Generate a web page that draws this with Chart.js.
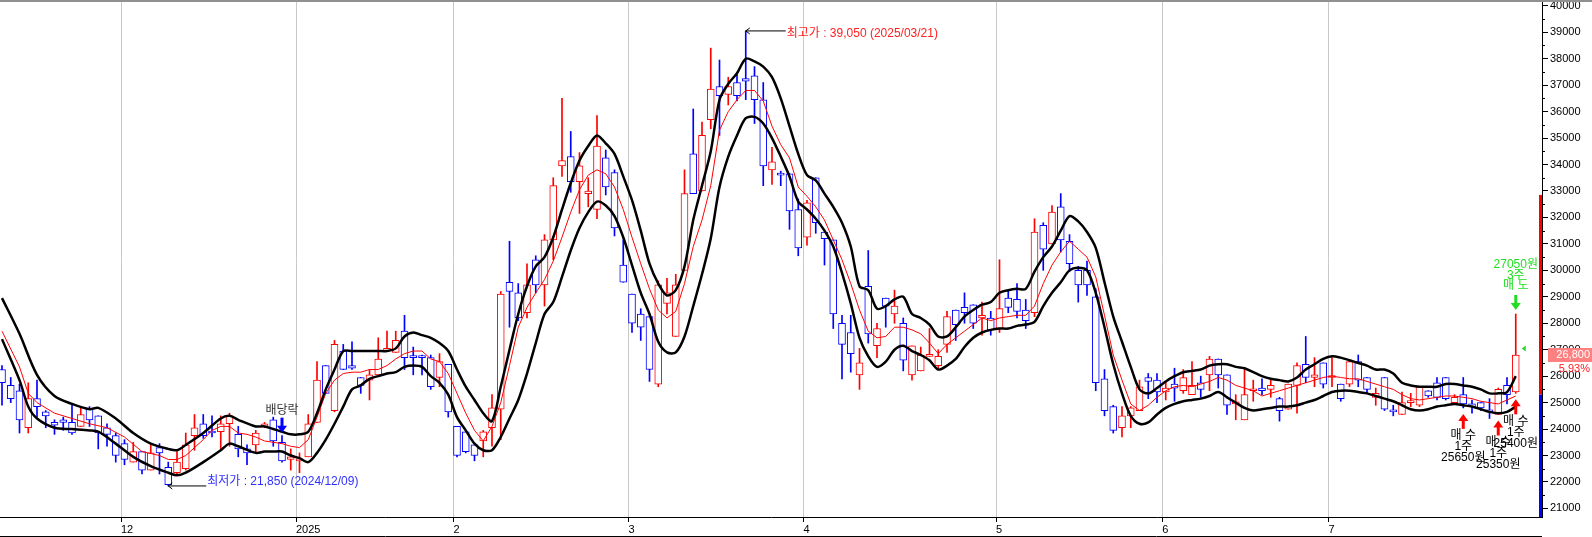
<!DOCTYPE html>
<html>
<head>
<meta charset="utf-8">
<script src="https://cdn.jsdelivr.net/npm/chart.js@4.4.1/dist/chart.umd.min.js"></script>
<style>
  html, body { margin: 0; padding: 0; background: #fff; }
  #wrap { width: 1592px; height: 537px; }
</style>
</head>
<body>
<div id="wrap"><canvas id="chart" width="1592" height="537"></canvas></div>
<script>
// Daily candles, 2024-11-12 .. 2025-07-30 (index = trading day)
const opens = [26250,25650,25450,24050,25150,24650,24250,24350,24250,24100,
  24750,24500,24050,23750,23450,22750,23150,22450,23300,22550,
  22350,22500,23750,24200,23900,23900,24200,23800,23250,23400,
  24100,24350,23500,22850,22800,22950,24250,26400,24700,26950,
  26400,25950,25850,26050,26950,26900,27700,26750,26750,26700,
  25950,26450,24100,23900,23400,23550,24050,24750,29550,29150,
  28400,30400,29450,31150,33950,34300,33350,32900,32300,34250,
  33700,30200,29100,28350,28250,25700,28750,27500,30000,34400,
  33000,35700,36950,36650,37100,37250,37350,36450,33800,33650,
  33650,32300,31250,33500,31450,31150,28000,27650,26050,29400,
  27150,28950,28350,28000,26050,26200,26750,26400,27200,28500,
  28600,28700,28200,28200,27800,28950,28900,28500,28400,31700,
  31000,32400,31100,30000,30000,29000,25900,24850,24050,24500,
  24700,25950,25850,25400,25700,25450,25300,25750,26050,26650,
  26050,24950,24350,25450,25550,25500,25150,24750,25650,26450,
  25950,26500,25950,25700,25700,26550,25950,25200,25950,24700,
  24550,25000,24900,25450,25750,25950,25000,25300,24950,25000,
  24700,24550,25650,25400];
const highs = [26400,25950,25700,25750,25850,24700,24350,24450,24900,24850,
  24850,24500,24200,23850,23600,23500,23150,23450,23450,22750,
  23150,23850,24550,24550,24500,24500,24600,24100,23400,23950,
  24250,24450,23750,23250,23100,24550,26550,26400,27350,27200,
  27300,25950,26250,27450,27700,27700,28300,27100,26800,26800,
  26850,26450,24100,23900,23400,23950,25300,29200,31100,29500,
  30250,30550,31350,33500,36500,35250,34450,33500,35850,34550,
  33800,31150,29100,28550,28250,29600,29700,29850,33800,36100,
  35600,38400,37950,37300,37450,39050,37700,37100,34650,33750,
  33650,32700,32650,33500,31450,31150,28300,28300,27050,30750,
  28000,28950,29250,28200,27150,27100,27800,27000,28450,28500,
  29150,28700,28800,28450,30400,29250,29500,28900,31950,31800,
  32450,32900,31350,30150,30350,29300,26250,24900,24850,24850,
  25850,26100,26100,25800,26300,26250,26550,26000,26750,26650,
  26050,25300,26250,25850,25900,25850,25200,25700,26500,27500,
  26700,26500,26700,25700,26600,26800,25950,25550,25950,24900,
  25400,25350,25600,25450,25950,25950,25300,25950,25100,25000,
  25150,25550,25950,28350];
const lows = [24900,25000,23850,23850,24450,24050,23800,23950,23800,24100,
  24100,23250,23350,22750,22650,22750,22300,22450,22300,21850,
  22250,22450,23200,23650,23700,23200,23350,22950,22650,23100,
  24050,23350,22750,22450,22350,22950,24250,25350,24650,26250,
  26250,25350,25100,26050,26950,26900,26250,26050,26050,25500,
  25600,24450,22950,23100,22800,22950,23350,23600,27850,28100,
  28200,29150,28650,30400,33550,32950,32150,32400,31950,32850,
  31300,29550,27650,27350,25800,25600,28350,27500,30000,32900,
  33000,35350,35100,36250,36400,36450,35550,33200,33250,33200,
  31550,30550,30950,31400,30200,27800,25900,26150,25500,27250,
  26700,27850,28000,26200,25850,26200,26750,26250,26900,27350,
  28000,27800,27550,27550,27650,28400,28200,27800,28250,30000,
  31000,30700,29950,28800,29050,25450,24500,23850,23700,24050,
  24700,25150,25000,25100,25050,25350,25300,25200,25450,25550,
  24550,24350,24350,25050,25300,25200,24300,24750,24600,25750,
  25600,25550,25600,25050,25600,25600,25350,24900,24700,24500,
  24550,24850,24850,25200,25100,25100,24950,24800,24600,24700,
  24400,24550,24950,25350];
const closes = [25750,25150,24350,25150,24850,24500,24150,24250,23850,24550,
  24350,23850,23800,23000,22850,23150,22450,23100,23100,21900,
  22750,23400,24050,23750,23850,24200,24500,23250,23100,23850,
  24200,23550,22800,22950,22850,24200,25850,25350,27200,26250,
  26300,25650,26050,26650,27050,27350,26700,26700,26700,25600,
  26550,24650,23000,23150,23000,23900,24800,29100,29200,28200,
  29450,29450,31150,33200,34150,33350,33950,33000,34700,33150,
  31600,29550,28000,27850,26250,29450,29150,29450,32900,32900,
  35100,36850,36600,36950,36600,37150,36450,33950,34100,33600,
  32250,30850,32550,31800,31200,28350,27200,26850,26500,27600,
  27800,28650,28650,26600,27150,26800,26800,26750,28250,27950,
  28400,28000,28300,27750,28550,28600,28450,28100,31450,30800,
  32200,31150,30250,29450,29450,25750,24700,23950,24500,24800,
  25600,25800,25400,25550,25550,25950,25650,25500,26650,26050,
  24900,25000,25300,25500,25450,25650,24700,25700,26400,25950,
  26050,25700,26000,25150,26550,25850,25500,25350,24750,24650,
  25000,25050,25600,25250,25200,25150,25200,24950,24850,24800,
  24650,25500,25300,26800];

// Band lines (null = not read)
const bandUpper = [28950,null,27600,null,26050,null,25250,null,24950,null,
  24750,24800,null,24400,null,23850,null,23450,null,23250,
  23200,23400,null,23850,null,24400,24500,24350,null,24100,
  24100,24000,23900,23800,23800,23900,24600,25500,26250,26950,
  26950,26950,26950,26950,26950,27050,27500,27650,27550,27450,
  27250,26950,26250,25600,25100,24600,24300,25600,27000,28350,
  29400,30150,30500,31250,32300,33300,34150,34700,35100,34800,
  34400,33550,32650,31500,30250,29500,29050,29250,30150,31900,
  33200,34500,36450,37050,37450,38000,37900,37700,37300,36500,
  35450,34400,33600,33400,32900,32400,31800,30900,29400,29250,
  28550,28650,28900,29000,28350,28200,27950,27500,27500,27850,
  28250,28500,28700,28800,29150,29250,29300,29300,29950,30500,
  30900,31500,32050,31850,31450,30850,29550,28250,27300,26350,
  25500,25350,25550,25800,26000,26150,26200,26250,26400,26450,
  26450,26350,26300,26150,26000,25900,25850,25800,25950,26250,
  26450,26650,26750,26700,26600,26500,26400,26250,26250,26100,
  25750,25650,25600,25600,25600,25700,25700,25650,25600,25500,
  25350,25350,25400,26000];
const maLine = [27700,null,26350,25350,25000,null,24600,null,24400,null,
  24200,null,24050,null,23700,null,23150,null,23000,22850,
  22850,23000,null,23600,23950,24100,24100,23850,23800,23700,
  23550,23500,23450,23350,23300,23600,24450,25350,25850,26100,
  26150,26150,26250,26250,26400,26650,26850,26950,26950,26650,
  26550,26100,25350,24600,23950,23550,24100,25000,26400,27850,
  28600,29150,29650,30350,31250,32200,33050,33600,33800,33650,
  33150,32300,31250,30250,29300,28500,28200,28450,29500,30900,
  31900,33200,35300,36000,36450,36800,36800,36400,35450,34750,
  34250,33150,32800,32400,31900,31150,30400,29500,28500,27700,
  27450,27500,27850,27850,27750,27600,27250,26850,27200,27450,
  27700,27950,28200,28100,28200,28250,28300,28300,28650,29500,
  30200,30700,31100,30800,30500,29750,28300,26800,25850,24950,
  24700,24900,25200,25450,25600,25650,25600,25700,25800,25950,
  25850,25650,25550,25450,25250,25350,25450,25550,25650,25750,
  25850,25950,26000,25950,25900,25900,25800,25700,25600,25500,
  25300,25150,25100,25150,25200,25250,25250,25200,25150,25050,
  25000,24950,25100,25250];
const bandLower = [27400,null,25850,24850,24400,null,24050,null,24000,null,
  23950,23900,null,23450,null,22950,null,22600,null,22350,
  22250,22350,null,22750,null,23200,23450,23350,null,23100,
  23150,23150,23150,23000,22900,22750,23100,23600,24200,24850,
  25500,25650,25900,26000,26100,26150,26350,26400,26350,26000,
  25750,25300,24450,23950,23450,23200,23200,23700,24400,25100,
  26100,27250,28350,28800,29750,30750,31600,32200,32600,32450,
  32050,31250,30200,29150,28350,27300,26900,26900,27500,28650,
  29850,31200,33150,34300,35100,35750,35800,35550,35000,34300,
  33550,32600,32300,31950,31500,30900,29900,28750,27450,26750,
  26350,26550,27000,27150,26950,26800,26600,26250,26400,26650,
  27100,27450,27650,27750,27800,27800,27900,27950,28050,28650,
  29150,29550,30000,30100,30000,29150,27850,26450,25350,24500,
  24200,24250,24550,24800,24950,25050,25100,25150,25250,25400,
  25200,25000,24800,24700,24750,24800,24850,24850,24900,25000,
  25100,25250,25400,25450,25450,25400,25350,25250,25150,25050,
  24900,24750,24700,24750,24850,24900,24950,24900,24850,24750,
  24650,24600,24650,24850];

// Axes
const monthIdx = [14, 34, 52, 72, 92, 114, 133, 152];
const monthLabels = ['12', '2025', '2', '3', '4', '5', '6', '7'];
const yTicks = [21000,22000,23000,24000,25000,26000,27000,28000,29000,30000,
  31000,32000,33000,34000,35000,36000,37000,38000,39000,40000];

// Markers
const highIdx = 85, highText = '최고가 : 39,050 (2025/03/21)';
const lowIdx = 19, lowText = '최저가 : 21,850 (2024/12/09)';
const exDivIdx = 32;
const buyIdx = [167, 171, 173];
const buyPrice = [25650, 25350, 25400];
const sellIdx = 173, sellPrice = 27050, sellQty = 3;
const limitUp = 32850;

const FONT = '"Liberation Sans", "Noto Sans CJK KR", sans-serif';
const RED = '#ff0000', BLUE = '#0000ff';

const idx = opens.map((_, i) => i);
const candleColors = opens.map((o, i) => closes[i] >= o ? RED : BLUE);

function linePoints(arr) {
  const pts = [];
  arr.forEach((v, i) => { if (v !== null) pts.push({ x: i, y: v }); });
  return pts;
}

function upArrow(c, x, tip, color) {
  c.fillStyle = color;
  c.beginPath();
  c.moveTo(x, tip);
  c.lineTo(x - 5, tip + 7);
  c.lineTo(x + 5, tip + 7);
  c.closePath();
  c.fill();
  c.fillRect(x - 1.5, tip + 6, 3, 9);
}

function downArrow(c, x, tip, color) {
  c.fillStyle = color;
  c.beginPath();
  c.moveTo(x, tip);
  c.lineTo(x - 5, tip - 7);
  c.lineTo(x + 5, tip - 7);
  c.closePath();
  c.fill();
  c.fillRect(x - 1.5, tip - 15, 3, 9);
}

// Extra drawing: frame, price band on axis, minor ticks, labels, trade marks
const decor = {
  id: 'decor',
  afterDraw(chart) {
    const c = chart.ctx;
    const xs = chart.scales.x, ys = chart.scales.y;
    const area = chart.chartArea;
    c.save();

    c.fillStyle = '#909090';
    c.fillRect(0, 0, chart.width, 2);
    c.strokeStyle = '#000';
    c.lineWidth = 1;
    c.beginPath();
    c.moveTo(0, 536.5);
    c.lineTo(area.right, 536.5);
    c.stroke();

    // minor ticks
    c.beginPath();
    yTicks.forEach(v => {
      const y = Math.round(ys.getPixelForValue(v + 500)) + 0.5;
      if (y > 0) { c.moveTo(area.right, y); c.lineTo(area.right + 3, y); }
    });
    c.stroke();

    // price range bar on the axis
    const prevClose = closes[closes.length - 2];
    const yUp = ys.getPixelForValue(limitUp), yPrev = ys.getPixelForValue(prevClose);
    c.fillStyle = RED;
    c.fillRect(area.right - 3, yUp, 3, yPrev - yUp);
    c.fillStyle = BLUE;
    c.fillRect(area.right - 3, yPrev, 3, area.bottom - yPrev);

    // last price box
    const last = closes[closes.length - 1];
    const yLast = ys.getPixelForValue(last);
    c.fillStyle = '#ff8080';
    c.fillRect(area.right + 6, yLast - 7, chart.width - area.right - 6, 14);
    c.font = '11px ' + FONT;
    c.textAlign = 'right';
    c.textBaseline = 'middle';
    c.fillStyle = '#fff';
    c.fillText(last.toLocaleString('en-US'), chart.width - 2, yLast);
    c.fillStyle = '#ff2020';
    c.fillText(((last - prevClose) / prevClose * 100).toFixed(2) + '%', chart.width - 2, yLast + 14);

    c.font = '12px ' + FONT;

    // highest / lowest marks
    const xh = xs.getPixelForValue(highIdx), yh = ys.getPixelForValue(highs[highIdx]);
    c.strokeStyle = '#000';
    c.beginPath();
    c.moveTo(xh, yh); c.lineTo(xh + 40, yh);
    c.moveTo(xh, yh); c.lineTo(xh + 4, yh - 3);
    c.moveTo(xh, yh); c.lineTo(xh + 4, yh + 3);
    c.stroke();
    c.textAlign = 'left';
    c.fillStyle = '#ff2020';
    c.fillText(highText, xh + 41, yh + 3);

    const xl = xs.getPixelForValue(lowIdx), yl = ys.getPixelForValue(lows[lowIdx]);
    c.beginPath();
    c.moveTo(xl, yl); c.lineTo(xl + 38, yl);
    c.moveTo(xl, yl); c.lineTo(xl + 4, yl - 3);
    c.moveTo(xl, yl); c.lineTo(xl + 4, yl + 3);
    c.stroke();
    c.fillStyle = '#3030ff';
    c.fillText(lowText, xl + 39, yl - 4);

    // ex-dividend
    const xd = xs.getPixelForValue(exDivIdx), yd = ys.getPixelForValue(highs[exDivIdx]);
    c.textAlign = 'center';
    c.fillStyle = '#333';
    c.fillText('배당락', xd, yd - 25);
    downArrow(c, xd, yd - 3, BLUE);

    // buys
    buyIdx.forEach((b, k) => {
      const x = xs.getPixelForValue(b);
      const tip = ys.getPixelForValue(lows[b]) + 6;
      upArrow(c, x, tip, RED);
      c.fillStyle = '#000';
      c.fillText('매 수', x, tip + 22);
      c.fillText('1주', x, tip + 33);
      c.fillText(buyPrice[k] + '원', x, tip + 44);
    });

    // sell
    const xsl = xs.getPixelForValue(sellIdx);
    const tipS = ys.getPixelForValue(highs[sellIdx]) - 4;
    downArrow(c, xsl, tipS, '#22dd22');
    c.fillStyle = '#22dd22';
    c.fillText('매 도', xsl, tipS - 24);
    c.fillText(sellQty + '주', xsl, tipS - 34);
    c.fillText(sellPrice + '원', xsl, tipS - 45);
    const ysp = ys.getPixelForValue(sellPrice);
    c.beginPath();
    c.moveTo(xsl + 6, ysp);
    c.lineTo(xsl + 10, ysp - 3);
    c.lineTo(xsl + 10, ysp + 3);
    c.closePath();
    c.fill();

    c.restore();
  }
};

const ctx = document.getElementById('chart').getContext('2d');
const chart = new Chart(ctx, {
  type: 'bar',
  data: {
    datasets: [
      { type: 'line', data: linePoints(bandUpper), borderColor: '#000', borderWidth: 2.5,
        pointRadius: 0, tension: 0.3, order: 0 },
      { type: 'line', data: linePoints(bandLower), borderColor: '#000', borderWidth: 2.5,
        pointRadius: 0, tension: 0.3, order: 0 },
      { type: 'line', data: linePoints(maLine), borderColor: RED, borderWidth: 1,
        pointRadius: 0, tension: 0, order: 0 },
      { data: idx.map(i => ({ x: i, y: [opens[i], closes[i]] })),
        backgroundColor: '#fff', borderColor: candleColors, borderWidth: 1, borderSkipped: false,
        grouped: false, barPercentage: 1, categoryPercentage: 1, maxBarThickness: 7,
        minBarLength: 2, order: 1 },
      { data: idx.map(i => ({ x: i, y: [lows[i], highs[i]] })),
        backgroundColor: candleColors, borderWidth: 0,
        grouped: false, barPercentage: 1, categoryPercentage: 1, maxBarThickness: 1, order: 2 }
    ]
  },
  options: {
    responsive: false,
    devicePixelRatio: 1,
    animation: false,
    events: [],
    layout: { autoPadding: false, padding: 0 },
    plugins: { legend: { display: false }, tooltip: { enabled: false } },
    scales: {
      x: {
        type: 'linear', min: -0.2286, max: 176, offset: false,
        afterBuildTicks: (s) => { s.ticks = monthIdx.map(v => ({ value: v - 0.4 })); },
        afterFit: (s) => { s.height = 20; s.paddingLeft = 0; s.paddingRight = 0; },
        ticks: {
          autoSkip: false, maxRotation: 0, minRotation: 0, align: 'start', padding: 1,
          color: '#000', font: { family: FONT, size: 11 },
          callback: (v, i) => monthLabels[i]
        },
        grid: { color: '#c8c8c8', lineWidth: 1, offset: false, tickLength: 5, tickColor: '#000' },
        border: { color: '#000', width: 1 }
      },
      y: {
        type: 'linear', position: 'right', min: 20676, max: 40219,
        afterBuildTicks: (s) => { s.ticks = yTicks.map(v => ({ value: v })); },
        afterFit: (s) => { s.width = 50; s.paddingTop = 0; s.paddingBottom = 0; },
        ticks: { color: '#000', padding: 2, font: { family: FONT, size: 11 }, callback: v => String(v) },
        grid: { drawOnChartArea: false, tickLength: 6, tickColor: '#000' },
        border: { color: '#000', width: 1 }
      }
    }
  },
  plugins: [decor]
});
</script>
</body>
</html>
